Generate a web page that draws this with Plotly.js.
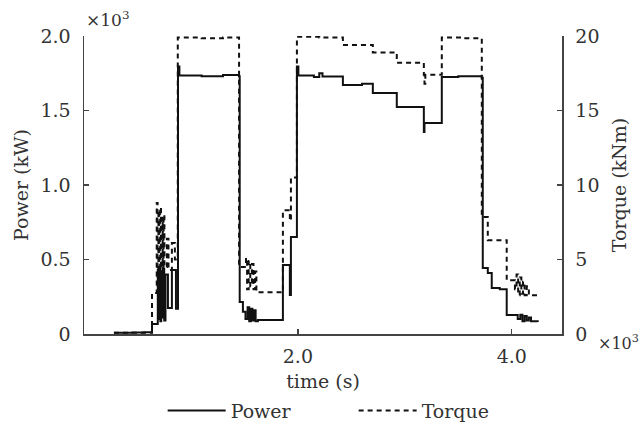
<!DOCTYPE html>
<html>
<head>
<meta charset="utf-8">
<script src="https://cdn.plot.ly/plotly-3.0.1.min.js"></script>
<style>html,body{margin:0;padding:0;background:#fff;}#chart{width:643px;height:422px;font-family:"DejaVu Serif",serif;}</style>
</head>
<body>
<div id="chart"></div>
<script>
// time in seconds
const powerTime = [280, 450, 560, 636, 690, 698, 706, 714, 722, 730, 740, 750, 762, 785, 822, 860, 879, 892, 1100, 1300, 1449, 1456, 1486, 1510, 1530, 1545, 1560, 1575, 1590, 1605, 1626, 1860, 1925, 1935, 1991, 2005, 2150, 2200, 2230, 2421, 2600, 2701, 2925, 3178, 3184, 3195, 3346, 3500, 3720, 3729, 3776, 3813, 3888, 3953, 4056, 4080, 4100, 4120, 4140, 4160, 4180, 4243];
// power in kW
const powerKW = [8, 10, 12, 67, 430, 100, 450, 85, 420, 110, 440, 90, 400, 175, 430, 170, 1795, 1735, 1730, 1738, 1730, 215, 150, 100, 180, 85, 170, 90, 160, 85, 94, 463, 262, 651, 1795, 1735, 1725, 1750, 1728, 1671, 1680, 1617, 1523, 1355, 1416, 1416, 1725, 1730, 1720, 443, 410, 309, 300, 128, 100, 130, 85, 120, 90, 110, 85, 81];

const torqueTime = [280, 636, 680, 688, 696, 704, 712, 720, 728, 736, 744, 752, 775, 790, 822, 850, 877, 1100, 1300, 1450, 1515, 1525, 1540, 1555, 1570, 1585, 1600, 1612, 1860, 1925, 1935, 1991, 2200, 2421, 2701, 2925, 3178, 3184, 3192, 3346, 3550, 3720, 3776, 3953, 4030, 4045, 4060, 4075, 4090, 4105, 4120, 4140, 4160, 4243];
// torque in kNm
const torqueKNm = [0.08, 2.75, 8.8, 3.0, 8.3, 3.3, 8.5, 3.8, 7.8, 4.2, 8.0, 4.5, 6.4, 4.3, 6.1, 5.0, 19.9, 19.85, 19.9, 4.5, 5.1, 3.0, 4.9, 3.2, 4.7, 3.0, 4.2, 2.8, 8.3, 7.6, 10.5, 19.95, 19.9, 19.4, 18.9, 18.2, 17.4, 16.8, 17.4, 19.9, 19.85, 7.85, 6.3, 3.6, 3.0, 4.0, 2.6, 3.8, 2.7, 3.5, 2.6, 3.2, 2.6, 2.6];

const xTickVals = [2000, 4000];
const xTickText = ['2.0', '4.0'];
const yTickVals = [0, 500, 1000, 1500, 2000];
const yTickText = ['0', '0.5', '1.0', '1.5', '2.0'];
const y2TickVals = [0, 5, 10, 15, 20];

const FONT = 'DejaVu Serif';
const TXT = '#333';

const traces = [
  {x: powerTime, y: powerKW, name: 'Power', type: 'scatter', mode: 'lines',
   line: {color: '#111', width: 2, shape: 'hv'}, yaxis: 'y'},
  {x: torqueTime, y: torqueKNm, name: 'Torque', type: 'scatter', mode: 'lines',
   line: {color: '#111', width: 2, shape: 'hv', dash: '5px,4px'}, yaxis: 'y2'}
];

const axisCommon = {showline: true, linecolor: '#444', linewidth: 1.5, ticks: 'inside', ticklen: 5,
  tickcolor: '#444', tickwidth: 1.5, showgrid: false, zeroline: false, automargin: true,
  tickfont: {family: FONT, size: 19, color: TXT}};

const layout = {
  width: 643, height: 422,
  margin: {l: 84, r: 81, t: 36, b: 88, pad: 0, autoexpand: false},
  paper_bgcolor: '#fff', plot_bgcolor: '#fff',
  font: {family: FONT, size: 19, color: TXT},
  showlegend: true,
  legend: {orientation: 'h', xref: 'container', yref: 'container', x: 0.55, xanchor: 'center', y: 0.027, yanchor: 'middle',
    font: {family: FONT, size: 19, color: TXT}, itemwidth: 58, entrywidth: 118, entrywidthmode: 'pixels', tracegroupgap: 0},
  xaxis: Object.assign({}, axisCommon, {range: [0, 4470], tickvals: xTickVals, ticktext: xTickText,
    title: {text: 'time (s)', font: {family: FONT, size: 19, color: TXT}, standoff: 8}, ticklabelstandoff: 5}),
  yaxis: Object.assign({}, axisCommon, {range: [0, 2000], tickvals: yTickVals, ticktext: yTickText,
    title: {text: 'Power (kW)', font: {family: FONT, size: 19, color: TXT}, standoff: 7}, ticklabelstandoff: 8}),
  yaxis2: Object.assign({}, axisCommon, {range: [0, 20], tickvals: y2TickVals, overlaying: 'y', side: 'right',
    title: {text: 'Torque (kNm)', font: {family: FONT, size: 19, color: TXT}, standoff: 14}, ticklabelstandoff: 8}),
  annotations: [
    {xref: 'paper', yref: 'paper', x: 0.0, y: 1.0, xanchor: 'left', yanchor: 'bottom', yshift: 4,
     text: '×10<sup>3</sup>', showarrow: false, font: {family: FONT, size: 17, color: TXT}},
    {xref: 'paper', yref: 'paper', x: 1.072, y: -0.03, xanchor: 'left', yanchor: 'middle',
     text: '×10<sup>3</sup>', showarrow: false, font: {family: FONT, size: 16, color: TXT}}
  ]
};

Plotly.newPlot('chart', traces, layout, {displayModeBar: false, staticPlot: true});
</script>
</body>
</html>
